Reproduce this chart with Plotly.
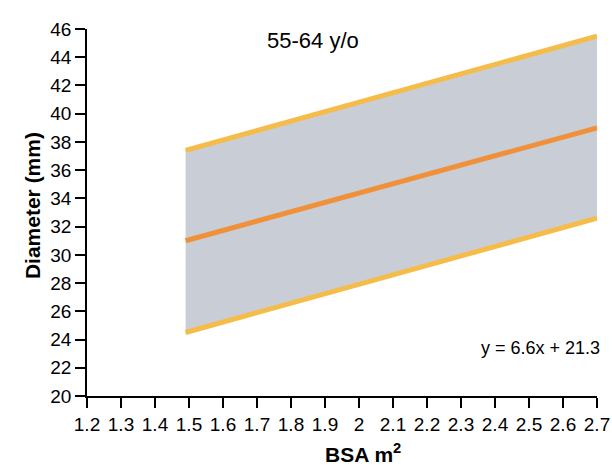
import plotly.graph_objects as go

bsa = [1.49, 2.70]
upper = [37.4, 45.5]
mean = [31.0, 39.0]
lower = [24.5, 32.6]
x_ticks = [1.2, 1.3, 1.4, 1.5, 1.6, 1.7, 1.8, 1.9, 2.0, 2.1, 2.2, 2.3, 2.4, 2.5, 2.6, 2.7]
x_tick_labels = ["1.2", "1.3", "1.4", "1.5", "1.6", "1.7", "1.8", "1.9", "2", "2.1", "2.2", "2.3", "2.4", "2.5", "2.6", "2.7"]
y_ticks = list(range(20, 47, 2))

FONT = "Liberation Sans, Arial, Helvetica, sans-serif"

fig = go.Figure()
# shaded band
fig.add_trace(go.Scatter(x=bsa, y=lower, mode="lines", line=dict(width=0), showlegend=False, hoverinfo="skip"))
fig.add_trace(go.Scatter(x=bsa, y=upper, mode="lines", line=dict(width=0), fill="tonexty",
                         fillcolor="#c9cdd6", showlegend=False, hoverinfo="skip"))
# lines
fig.add_trace(go.Scatter(x=bsa, y=upper, mode="lines", line=dict(color="#f5bc4a", width=5), showlegend=False))
fig.add_trace(go.Scatter(x=bsa, y=lower, mode="lines", line=dict(color="#f5bc4a", width=5), showlegend=False))
fig.add_trace(go.Scatter(x=bsa, y=mean, mode="lines", line=dict(color="#f0913a", width=5), showlegend=False))

fig.update_layout(
    width=612, height=466,
    margin=dict(l=87, r=15, t=29, b=70),
    paper_bgcolor="white", plot_bgcolor="white",
    font=dict(family=FONT, size=19, color="black"),
    showlegend=False,
    annotations=[
        dict(text="55-64 y/o", x=0.443, y=0.970, xref="paper", yref="paper",
             showarrow=False, font=dict(size=22, family=FONT), xanchor="center", yanchor="middle"),
        dict(text="y = 6.6x + 21.3", x=1.0098, y=0.131, xref="paper", yref="paper",
             showarrow=False, font=dict(size=18, family=FONT), xanchor="right", yanchor="middle"),
        dict(text="<b>BSA m<sup>2</sup></b>", x=0.541, y=-0.155, xref="paper", yref="paper",
             showarrow=False, font=dict(size=21, family=FONT), xanchor="center", yanchor="middle"),
        dict(text="<b>Diameter (mm)</b>", x=-0.108, y=0.52, xref="paper", yref="paper", textangle=-90,
             showarrow=False, font=dict(size=21, family=FONT), xanchor="center", yanchor="middle"),
    ],
)
fig.update_xaxes(
    range=[1.2, 2.7], tickmode="array", tickvals=x_ticks, ticktext=x_tick_labels,
    showgrid=False, zeroline=False, showline=True, linecolor="black", linewidth=1.5,
    ticks="outside", ticklen=10, tickwidth=1.5, tickcolor="black", automargin=False,
    tickfont=dict(size=19, family=FONT),
)
fig.update_yaxes(
    range=[20, 46], tickmode="array", tickvals=y_ticks,
    showgrid=False, zeroline=False, showline=True, linecolor="black", linewidth=1.5,
    ticks="outside", ticklen=10, tickwidth=1.5, tickcolor="black", automargin=False,
    tickfont=dict(size=19, family=FONT),
)
fig.write_html("out.html", config={"displayModeBar": False},
               post_script="document.body.style.margin='0';document.body.style.overflow='hidden';")
